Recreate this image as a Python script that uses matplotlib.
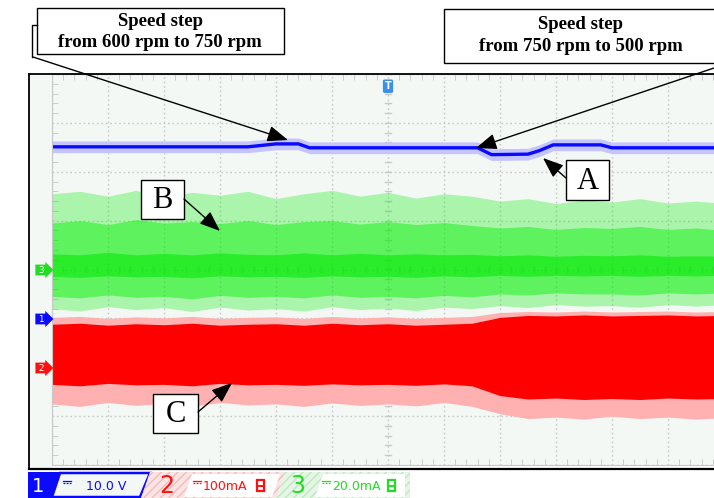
import numpy as np
import matplotlib.pyplot as plt
from matplotlib.patches import Polygon, Rectangle
from matplotlib.ticker import MultipleLocator

# horizontal position in divisions (12 div screen), vertical in divisions (0 = centre)
blue_x = [0, 3.5, 4.0, 4.4, 4.6, 7.6, 7.85, 8.5, 8.7, 8.95, 9.8, 10.0, 12]
blue_y = [2.51, 2.51, 2.57, 2.57, 2.49, 2.49, 2.35, 2.36, 2.43, 2.55, 2.55, 2.49, 2.49]

env_x = [0, 0.5, 1, 1.5, 2, 2.5, 3, 3.5, 4, 4.5, 5, 5.5, 6, 6.5, 7, 7.5,
         8, 8.5, 9, 9.5, 10, 10.5, 11, 11.5, 12]

green_hi = [1.55, 1.6, 1.5, 1.62, 1.48, 1.58, 1.52, 1.6, 1.45, 1.55, 1.62, 1.5, 1.58,
            1.46, 1.55, 1.5, 1.4, 1.45, 1.35, 1.42, 1.38, 1.45, 1.36, 1.4, 1.35]
green_mid_hi = [0.95, 1.0, 0.92, 1.02, 0.95, 0.98, 0.94, 1.0, 0.92, 0.98, 1.0, 0.93,
                0.98, 0.92, 0.96, 0.9, 0.85, 0.88, 0.82, 0.86, 0.84, 0.88, 0.82, 0.85, 0.8]
green_core_hi = [0.32, 0.3, 0.35, 0.3, 0.33, 0.3, 0.34, 0.31, 0.3, 0.34, 0.3, 0.33,
                 0.3, 0.32, 0.3, 0.31, 0.28, 0.3, 0.27, 0.29, 0.28, 0.3, 0.27, 0.28, 0.27]
green_core_lo = [-0.14, -0.16, -0.13, -0.15, -0.14, -0.17, -0.13, -0.15, -0.14, -0.16,
                 -0.13, -0.15, -0.14, -0.16, -0.13, -0.15, -0.12, -0.14, -0.12, -0.13,
                 -0.12, -0.14, -0.12, -0.13, -0.12]
green_mid_lo = [-0.55, -0.58, -0.52, -0.57, -0.55, -0.6, -0.53, -0.57, -0.55, -0.58,
                -0.52, -0.57, -0.55, -0.58, -0.53, -0.56, -0.5, -0.52, -0.48, -0.5,
                -0.5, -0.52, -0.48, -0.5, -0.48]
green_lo = [-0.8, -0.85, -0.76, -0.82, -0.78, -0.86, -0.77, -0.83, -0.8, -0.85, -0.76,
            -0.82, -0.79, -0.84, -0.77, -0.8, -0.74, -0.78, -0.72, -0.75, -0.74, -0.77,
            -0.72, -0.75, -0.72]

red_hi = [-0.98, -0.96, -1.0, -0.97, -0.99, -0.96, -1.0, -0.98, -0.97, -1.0, -0.96,
          -0.99, -0.97, -1.0, -0.98, -0.96, -0.88, -0.86, -0.87, -0.85, -0.87, -0.86,
          -0.85, -0.87, -0.86]
red_core_hi = [-1.12, -1.1, -1.14, -1.11, -1.13, -1.1, -1.14, -1.12, -1.11, -1.14,
               -1.1, -1.13, -1.11, -1.14, -1.12, -1.1, -0.98, -0.94, -0.95, -0.93,
               -0.95, -0.94, -0.93, -0.95, -0.94]
red_core_lo = [-2.35, -2.38, -2.33, -2.36, -2.35, -2.38, -2.33, -2.36, -2.35, -2.37,
               -2.34, -2.36, -2.35, -2.37, -2.34, -2.38, -2.58, -2.65, -2.63, -2.66,
               -2.64, -2.66, -2.63, -2.65, -2.64]
red_lo = [-2.75, -2.8, -2.72, -2.78, -2.74, -2.8, -2.72, -2.77, -2.75, -2.8, -2.73,
          -2.78, -2.75, -2.79, -2.72, -2.8, -2.95, -3.05, -3.02, -3.06, -3.0, -3.05,
          -3.02, -3.06, -3.03]

marker_levels = {'3': 0.0, '1': -1.0, '2': -2.0}
marker_colors = {'3': '#22dd22', '1': '#0a0aff', '2': '#ff1010'}

W, H = 714, 498
fig = plt.figure(figsize=(W / 100, H / 100), dpi=100)
fig.patch.set_facecolor('white')

bg = '#f4f8f5'
# left strip of the scope screen
left_strip = fig.add_axes([29 / W, 1 - 469 / H, 23 / W, 395 / H])
left_strip.set_facecolor(bg)
left_strip.set_xticks([]); left_strip.set_yticks([])
for s in left_strip.spines.values():
    s.set_visible(False)

ax = fig.add_axes([52 / W, 1 - 465 / H, 672 / W, 391 / H])
ax.set_facecolor(bg)
ax.set_axisbelow(True)
ax.set_xlim(0, 12)
ax.set_ylim(-4, 4)
ax.set_xticks(range(13)); ax.set_yticks(range(-4, 5))
ax.xaxis.set_minor_locator(MultipleLocator(0.2))
ax.yaxis.set_minor_locator(MultipleLocator(0.2))
ax.tick_params(which='both', direction='in', top=True, right=True,
               labelbottom=False, labelleft=False, color='#c4c4c4', length=4)
ax.tick_params(which='major', length=0)
ax.grid(True, which='major', ls=(0, (1.2, 2)), color='#c8c8c8', lw=1)
for s in ax.spines.values():
    s.set_color('#c8c8c8')
# centre crosshair ticks
for t in np.arange(-4, 4.01, 0.2):
    ax.plot([5.95, 6.05], [t, t], color='#c8c8c8', lw=1, zorder=0.5)
for t in np.arange(0, 12.01, 0.2):
    ax.plot([t, t], [-0.05, 0.05], color='#c8c8c8', lw=1, zorder=0.5)

# green trace
ax.fill_between(env_x, green_lo, green_hi, color='#00f000', alpha=0.3, lw=0)
ax.fill_between(env_x, green_mid_lo, green_mid_hi, color='#00f000', alpha=0.45, lw=0)
ax.fill_between(env_x, green_core_lo, green_core_hi, color='#00e800', alpha=0.55, lw=0)
# red trace
ax.fill_between(env_x, red_lo, red_hi, color='#ffb0b0', lw=0)
ax.fill_between(env_x, red_core_lo, red_core_hi, color='#ff0000', lw=0)
# blue trace
by = np.array(blue_y)
ax.fill_between(blue_x, by - 0.12, by + 0.12, color='#c4c4ff', lw=0)
ax.plot(blue_x, blue_y, color='#0a0aff', lw=2.4, solid_joinstyle='round')

# trigger marker
ax.text(6, 3.75, 'T', color='white', fontsize=7, fontweight='bold', ha='center',
        va='center', bbox=dict(boxstyle='round,pad=0.18', fc='#3c8fe8', ec='none'))

# overlay in pixel space for annotations and status bar
ov = fig.add_axes([0, 0, 1, 1], zorder=10)
ov.set_xlim(0, W); ov.set_ylim(H, 0); ov.axis('off')

# channel markers in the left strip
for name, lev in marker_levels.items():
    py = 270 - lev * 49
    ov.text(42, py, ' ' + name + ' ', color='white', fontsize=6.5, ha='center',
            va='center',
            bbox=dict(boxstyle='rarrow,pad=0.1', fc=marker_colors[name], ec='none'))

# frame lines
ov.plot([29, 714], [74, 74], color='black', lw=1.3)
ov.plot([29, 29], [74, 469], color='black', lw=1.3)
ov.plot([29, 714], [469, 469], color='black', lw=1.6)

serif = 'Liberation Serif'
# speed step boxes
ov.plot([32, 32, 37], [57, 25, 25], color='black', lw=1)
ov.add_patch(Rectangle((37, 8), 247, 46, fc='white', ec='black', lw=1))
ov.text(160, 21, 'Speed step', family=serif, fontweight='bold', fontsize=13.5,
        ha='center', va='center')
ov.text(160, 42, 'from 600 rpm to 750 rpm', family=serif, fontweight='bold',
        fontsize=13.5, ha='center', va='center')
ov.add_patch(Rectangle((444, 9), 272, 54, fc='white', ec='black', lw=1))
ov.text(581, 24, 'Speed step', family=serif, fontweight='bold', fontsize=13.5,
        ha='center', va='center')
ov.text(581, 46, 'from 750 rpm to 500 rpm', family=serif, fontweight='bold',
        fontsize=13.5, ha='center', va='center')

aprops = dict(arrowstyle='-|>,head_length=0.9,head_width=0.35', color='black',
              lw=1, mutation_scale=14, shrinkA=0, shrinkB=0)
ov.annotate('', xy=(288, 140), xytext=(33, 57), arrowprops=aprops)
ov.annotate('', xy=(476, 148), xytext=(714, 68), arrowprops=aprops)

for lab, (x0, y0, x1, y1), tail, tip in [
        ('A', (566, 160, 609, 200), (566, 178), (543, 158)),
        ('B', (141, 180, 184, 219), (184, 199), (220, 231)),
        ('C', (153, 394, 198, 433), (198, 412), (232, 383))]:
    ov.add_patch(Rectangle((x0, y0), x1 - x0, y1 - y0, fc='white', ec='black', lw=1))
    ov.text((x0 + x1) / 2, (y0 + y1) / 2 + 1, lab, family=serif, fontsize=22,
            ha='center', va='center')
    ov.annotate('', xy=tip, xytext=tail, arrowprops=aprops)

# status bar
ov.add_patch(Polygon([(28, 472), (62, 472), (54, 498), (28, 498)], fc='#0a0aff', ec='none'))
ov.add_patch(Polygon([(60, 473), (150, 473), (140, 497), (52, 497)], fc='#f4f8f5',
                     ec='#0a0aff', lw=1.8))
ov.text(38, 486, '1', color='white', fontsize=14, ha='center', va='center')
ov.add_patch(Polygon([(150, 472), (285, 472), (276, 498), (141, 498)], fc='#fbe4e4',
                     ec='#f3bcbc', lw=0, hatch='////'))
ov.add_patch(Polygon([(192, 474), (280, 474), (272, 497), (184, 497)], fc='white', ec='none'))
ov.text(167, 486, '2', color='#ff1010', fontsize=17, ha='center', va='center')
ov.add_patch(Polygon([(285, 472), (410, 472), (410, 498), (276, 498)], fc='#e6f6e6',
                     ec='#bfe8bf', lw=0, hatch='////'))
ov.add_patch(Polygon([(323, 474), (405, 474), (405, 497), (315, 497)], fc='white', ec='none'))
ov.text(298, 486, '3', color='#22dd22', fontsize=17, ha='center', va='center')

for x0, col, txt, tx in [(63, '#0a0aff', '10.0 V', 86), (193, '#ff1010', '100mA', 203),
                         (322, '#22dd22', '20.0mA', 332)]:
    ov.plot([x0, x0 + 8], [480.5, 480.5], color=col, lw=0.9)
    ov.plot([x0, x0 + 8], [483, 483], color=col, lw=0.9, ls=(0, (1.5, 1)))
    ov.text(tx, 486, txt, color=col, fontsize=9, ha='left', va='center')
for x0, col in [(257, '#ff1010'), (388, '#22dd22')]:
    ov.add_patch(Rectangle((x0, 480), 7, 11, fc='none', ec=col, lw=1.6))
    ov.plot([x0 + 2, x0 + 5], [485.5, 485.5], color=col, lw=1.4)

fig.savefig('out.png', dpi=100, facecolor='white')
